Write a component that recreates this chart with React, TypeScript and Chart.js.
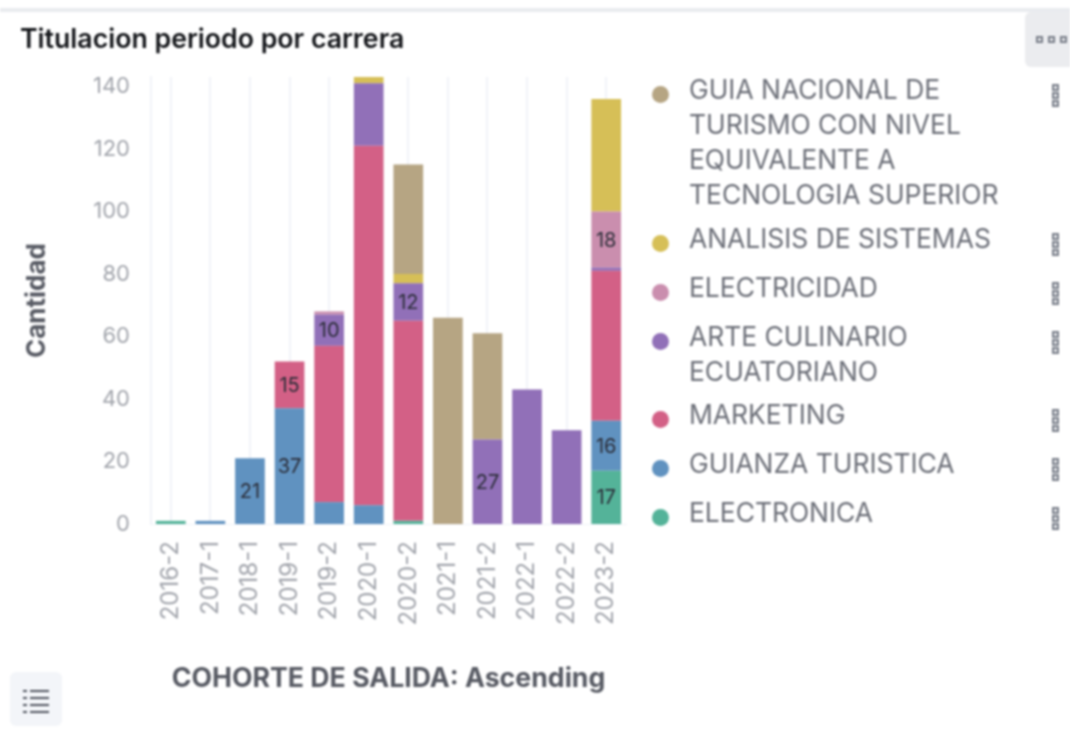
import React, { useEffect, useRef } from "react";
import { Chart, registerables } from "chart.js";

Chart.register(...registerables);

const FONT = "Inter, 'Noto Sans', sans-serif";

const categories = ["2016-2", "2017-1", "2018-1", "2019-1", "2019-2", "2020-1", "2020-2", "2021-1", "2021-2", "2022-1", "2022-2", "2023-2"];

const electronica = [1, 0, 0, 0, 0, 0, 1, 0, 0, 0, 0, 17];
const guianza = [0, 1, 21, 37, 7, 6, 0, 0, 0, 0, 0, 16];
const marketing = [0, 0, 0, 15, 50, 115, 64, 0, 0, 0, 0, 48];
const arte = [0, 0, 0, 0, 10, 20, 12, 0, 27, 43, 30, 1];
const electricidad = [0, 0, 0, 0, 1, 0, 0, 0, 0, 0, 0, 18];
const analisis = [0, 0, 0, 0, 0, 2, 3, 0, 0, 0, 0, 36];
const guia = [0, 0, 0, 0, 0, 0, 35, 66, 34, 0, 0, 0];

const yTicks = [0, 20, 40, 60, 80, 100, 120, 140];

// "dataset:category" pairs whose value is printed on the bar
const labelled = ["1:2", "1:3", "2:3", "3:4", "3:6", "4:11", "1:11", "3:8", "0:11"];

const seriesNames = ["ELECTRONICA", "GUIANZA TURISTICA", "MARKETING", "ARTE CULINARIO ECUATORIANO", "ELECTRICIDAD", "ANALISIS DE SISTEMAS", "GUIA NACIONAL DE TURISMO CON NIVEL EQUIVALENTE A TECNOLOGIA SUPERIOR"];
const seriesValues = [electronica, guianza, marketing, arte, electricidad, analisis, guia];
const seriesColors = ["#54b399", "#6092c0", "#d36086", "#9170b8", "#ca8eae", "#d6bf57", "#b6a583"];

const legendRows = [
  { s: 6, top: 72, width: 340 },
  { s: 5, top: 221, width: 340 },
  { s: 4, top: 270, width: 340 },
  { s: 3, top: 319, width: 300 },
  { s: 2, top: 397, width: 340 },
  { s: 1, top: 446, width: 340 },
  { s: 0, top: 495, width: 340 },
];

const barLabels = {
  id: "barLabels",
  afterDatasetsDraw(chart: any) {
    const ctx = chart.ctx;
    ctx.save();
    ctx.font = `20px ${FONT}`;
    ctx.fillStyle = "#2b2d38";
    ctx.textAlign = "center";
    ctx.textBaseline = "middle";
    labelled.forEach((key) => {
      const [d, i] = key.split(":").map(Number);
      const el = chart.getDatasetMeta(d).data[i];
      ctx.fillText(String(seriesValues[d][i]), el.x, (el.y + el.base) / 2 + 1);
    });
    ctx.restore();
  },
};

function Dot({ x, y, c = "#7a7f8a" }: { x: number; y: number; c?: string }) {
  return <div style={{ position: "absolute", left: x, top: y, width: 7, height: 7, boxSizing: "border-box", border: `2px solid ${c}`, background: "#e4e5e8" }} />;
}

function VIcon({ y }: { y: number }) {
  return (
    <>
      <Dot x={1052} y={y - 10} />
      <Dot x={1052} y={y - 2} />
      <Dot x={1052} y={y + 6} />
    </>
  );
}

export default function App() {
  const ref = useRef<HTMLCanvasElement>(null);

  useEffect(() => {
    const chart = new Chart(ref.current!, {
      type: "bar",
      data: {
        labels: categories,
        datasets: seriesNames.map((name, i) => ({
          label: name,
          data: seriesValues[i],
          backgroundColor: seriesColors[i],
          barPercentage: 0.75,
          categoryPercentage: 1,
        })),
      },
      plugins: [barLabels],
      options: {
        animation: false,
        responsive: false,
        layout: { padding: { left: 22, right: 444, top: 77, bottom: 34 } },
        plugins: { legend: { display: false }, title: { display: false }, tooltip: { enabled: false } },
        scales: {
          x: {
            stacked: true,
            afterFit: (s: any) => { s.height = 171; },
            grid: { offset: false, color: "#f1f3f8", lineWidth: 2, drawTicks: false },
            border: { color: "#f1f3f8" },
            ticks: { color: "#a2a5ac", font: { family: FONT, size: 24 }, minRotation: 90, maxRotation: 90, padding: 17, autoSkip: false },
            title: { display: true, text: "COHORTE DE SALIDA: Ascending", color: "#585b64", font: { family: FONT, size: 26.7, weight: "bold" }, padding: { top: 0, bottom: 0 } },
          },
          y: {
            stacked: true,
            min: 0,
            max: 143,
            afterFit: (s: any) => { s.width = 129; },
            afterBuildTicks: (s: any) => { s.ticks = yTicks.map((value) => ({ value })); },
            grid: { display: false, drawTicks: false },
            border: { color: "#f1f3f8", width: 2 },
            ticks: { color: "#a2a5ac", font: { family: FONT, size: 22 }, padding: 21 },
            title: { display: true, text: "Cantidad", color: "#585b64", font: { family: FONT, size: 26, weight: "bold" }, padding: 0 },
          },
        },
      } as any,
    });
    return () => chart.destroy();
  }, []);

  return (
    <div style={{ position: "absolute", left: 0, top: 0, width: 1070, height: 729, overflow: "hidden", background: "#fff", fontFamily: FONT, filter: "blur(0.8px)" }}>
      <canvas ref={ref} width={1070} height={729} style={{ position: "absolute", left: 0, top: 0, display: "block" }} />
      <div style={{ position: "absolute", left: 0, top: 8, width: 1070, height: 4, background: "#e9ebef" }} />
      <div style={{ position: "absolute", left: 20, top: 22, fontSize: 26.7, fontWeight: 600, lineHeight: "32px", color: "#14161a", whiteSpace: "nowrap" }}>Titulacion periodo por carrera</div>
      <div style={{ position: "absolute", left: 1025, top: 12, width: 60, height: 55, borderRadius: 6, background: "#ebecef" }} />
      <Dot x={1036} y={36} />
      <Dot x={1048} y={36} />
      <Dot x={1060} y={36} />
      {legendRows.map(({ s, top, width }) => (
        <React.Fragment key={s}>
          <div style={{ position: "absolute", left: 652, top: top + 14, width: 17, height: 17, borderRadius: "50%", background: seriesColors[s] }} />
          <div style={{ position: "absolute", left: 689, top, width, fontSize: 26.4, lineHeight: "35px", color: "#6c6f78", whiteSpace: "normal" }}>{seriesNames[s]}</div>
          <VIcon y={top + 22} />
        </React.Fragment>
      ))}
      <div style={{ position: "absolute", left: 10, top: 672, width: 52, height: 54, borderRadius: 6, background: "#f3f5f9" }} />
      {[0, 1, 2, 3].map((n) => (
        <React.Fragment key={n}>
          <div style={{ position: "absolute", left: 23, top: 690 + n * 7, width: 4, height: 2, background: "#50545e" }} />
          <div style={{ position: "absolute", left: 30, top: 690 + n * 7, width: 19, height: 2, background: "#50545e" }} />
        </React.Fragment>
      ))}
    </div>
  );
}
